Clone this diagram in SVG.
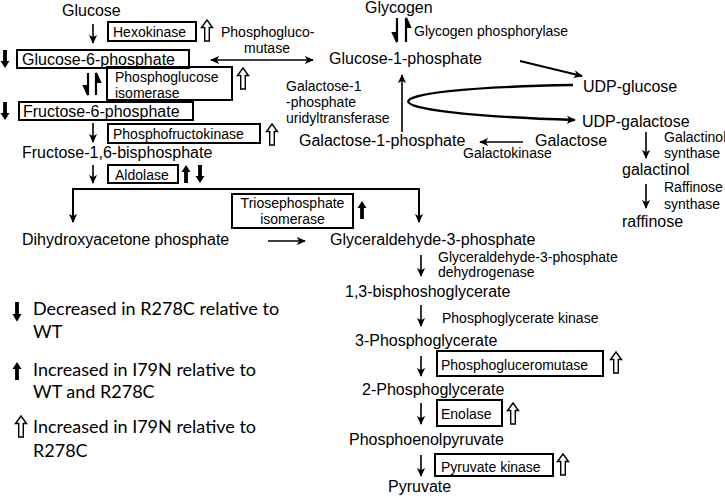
<svg xmlns="http://www.w3.org/2000/svg" width="725" height="498" viewBox="0 0 725 498">
<defs>
<style>
text{font-family:"Liberation Sans",Arial,sans-serif;fill:#000}
.L{font-size:16px}
.S{font-size:14px}
.G{font-family:Lato,"Liberation Sans",sans-serif;font-size:18px}
.box{fill:none;stroke:#000;stroke-width:2}
.ln{fill:none;stroke:#000;stroke-width:1.6}
.thk{fill:none;stroke:#000;stroke-width:2.4}
</style>
<marker id="ah" viewBox="0 0 10 10" refX="9" refY="5" markerWidth="9" markerHeight="9" markerUnits="userSpaceOnUse" orient="auto-start-reverse"><path d="M0,0.5 L10,5 L0,9.5 L2.5,5 z"/></marker>
<path id="su" d="M0,0 L4.5,7 L1.9,7 L1.9,18 L-1.9,18 L-1.9,7 L-4.5,7 Z" fill="#000"/>
<path id="sd" d="M0,18 L4.5,11 L1.9,11 L1.9,0 L-1.9,0 L-1.9,11 L-4.5,11 Z" fill="#000"/>
<path id="hu" d="M0,0 L5.5,7.5 L2.3,7.5 L2.3,21 L-2.3,21 L-2.3,7.5 L-5.5,7.5 Z" fill="#fff" stroke="#000" stroke-width="1.4"/>
</defs>

<g id="connectors">
<line class="ln" x1="93" y1="24" x2="93" y2="43" marker-end="url(#ah)"/>
<line class="ln" x1="211" y1="60" x2="313" y2="60" marker-start="url(#ah)" marker-end="url(#ah)"/>
<path d="M88,73 V95 M88,95 L84,86 L88,86 Z" stroke="#000" stroke-width="2.2" fill="#000"/>
<path d="M96,95 V73 M96,73 L100,82 L96,82 Z" stroke="#000" stroke-width="2.2" fill="#000"/>
<line class="ln" x1="93" y1="123" x2="93" y2="142" marker-end="url(#ah)"/>
<line class="ln" x1="93" y1="165" x2="93" y2="183" marker-end="url(#ah)"/>
<path d="M73,222 V189 H419 V222" fill="none" stroke="#000" stroke-width="2" marker-start="url(#ah)" marker-end="url(#ah)"/>
<line class="ln" x1="268" y1="241" x2="305" y2="241" marker-end="url(#ah)"/>
<line class="ln" x1="421" y1="255" x2="421" y2="276" marker-end="url(#ah)"/>
<line class="ln" x1="421" y1="305" x2="421" y2="326" marker-end="url(#ah)"/>
<line class="ln" x1="421" y1="356" x2="421" y2="376" marker-end="url(#ah)"/>
<line class="ln" x1="421" y1="403" x2="421" y2="424" marker-end="url(#ah)"/>
<line class="ln" x1="421" y1="455" x2="421" y2="476" marker-end="url(#ah)"/>
<path d="M397,18 V42 M397,42 L393,33 L397,33 Z" stroke="#000" stroke-width="2.2" fill="#000"/>
<path d="M406,42 V18 M406,18 L410,27 L406,27 Z" stroke="#000" stroke-width="2.2" fill="#000"/>
<line x1="520" y1="61" x2="582" y2="76" stroke="#000" stroke-width="2" marker-end="url(#ah)"/>
<path class="thk" d="M573,85 C353,89 353,113 575,120" marker-end="url(#ah)"/>
<line class="ln" x1="402" y1="132" x2="402" y2="75" marker-end="url(#ah)"/>
<line class="ln" x1="523" y1="142" x2="480" y2="142" marker-end="url(#ah)"/>
<line class="ln" x1="646" y1="132" x2="646" y2="158" marker-end="url(#ah)"/>
<line class="ln" x1="646" y1="184" x2="646" y2="208" marker-end="url(#ah)"/>
</g>

<g id="glucose"><text class="L" x="62" y="16">Glucose</text></g>
<g id="hexokinase"><rect class="box" x="108" y="22" width="88" height="19"/><text class="S" x="113" y="37">Hexokinase</text><use href="#hu" x="207" y="20"/></g>
<g id="g6p"><rect class="box" x="17" y="50" width="172" height="18"/><text class="L" x="22" y="65">Glucose-6-phosphate</text><use href="#sd" x="5" y="50"/></g>
<g id="pgm1"><text class="S" x="221" y="37">Phosphogluco-</text><text class="S" x="267" y="53" text-anchor="middle">mutase</text></g>
<g id="pgi"><rect class="box" x="107" y="67" width="125" height="33"/><text class="S" x="115" y="82">Phosphoglucose</text><text class="S" x="115" y="98">isomerase</text><use href="#hu" x="243" y="68"/></g>
<g id="f6p"><rect class="box" x="19" y="102" width="174" height="18"/><text class="L" x="23" y="117">Fructose-6-phosphate</text><use href="#sd" x="5" y="102"/></g>
<g id="pfk"><rect class="box" x="108" y="124" width="152" height="19"/><text class="S" x="113" y="139">Phosphofructokinase</text><use href="#hu" x="272" y="124"/></g>
<g id="f16bp"><text class="L" x="22" y="158">Fructose-1,6-bisphosphate</text></g>
<g id="aldolase"><rect class="box" x="108" y="165" width="70" height="18"/><text class="S" x="115" y="180">Aldolase</text><use href="#su" x="186" y="165"/><use href="#sd" x="200" y="165"/></g>
<g id="tpi"><rect class="box" x="232" y="194" width="121" height="34"/><text class="S" x="292.5" y="208" text-anchor="middle">Triosephosphate</text><text class="S" x="292.5" y="224" text-anchor="middle">isomerase</text><use href="#su" x="362" y="201"/></g>
<g id="dhap"><text class="L" x="22" y="245">Dihydroxyacetone phosphate</text></g>
<g id="gap"><text class="L" x="330" y="245">Glyceraldehyde-3-phosphate</text></g>
<g id="gapdh"><text class="S" x="438" y="262">Glyceraldehyde-3-phosphate</text><text class="S" x="438" y="277">dehydrogenase</text></g>
<g id="bpg"><text class="L" x="345" y="297">1,3-bisphoshoglycerate</text></g>
<g id="pgk"><text class="S" x="442" y="323">Phosphoglycerate kinase</text></g>
<g id="pg3"><text class="L" x="355" y="346">3-Phosphoglycerate</text></g>
<g id="pgmut"><rect class="box" x="437" y="351" width="166" height="25"/><text class="S" x="441" y="370">Phosphogluceromutase</text><use href="#hu" x="616" y="352"/></g>
<g id="pg2"><text class="L" x="362" y="395">2-Phosphoglycerate</text></g>
<g id="enolase"><rect class="box" x="437" y="400" width="65" height="26"/><text class="S" x="441" y="419">Enolase</text><use href="#hu" x="513" y="403"/></g>
<g id="pep"><text class="L" x="349" y="445">Phosphoenolpyruvate</text></g>
<g id="pk"><rect class="box" x="435" y="454" width="118" height="22"/><text class="S" x="441" y="472">Pyruvate kinase</text><use href="#hu" x="563" y="454"/></g>
<g id="pyruvate"><text class="L" x="388" y="492">Pyruvate</text></g>

<g id="glycogen"><text class="L" x="365" y="13">Glycogen</text><text class="S" x="414" y="36">Glycogen phosphorylase</text></g>
<g id="g1p"><text class="L" x="329" y="64">Glucose-1-phosphate</text></g>
<g id="galt"><text class="S" x="286" y="91">Galactose-1</text><text class="S" x="286" y="107">-phosphate</text><text class="S" x="286" y="123">uridyltransferase</text></g>
<g id="gal1p"><text class="L" x="299" y="146">Galactose-1-phosphate</text></g>
<g id="galactose"><text class="L" x="535" y="146">Galactose</text><text class="S" x="463" y="158">Galactokinase</text></g>
<g id="udpglc"><text class="L" x="583" y="92">UDP-glucose</text></g>
<g id="udpgal"><text class="L" x="582" y="127">UDP-galactose</text></g>
<g id="galactinol"><text class="S" x="664" y="142">Galactinol</text><text class="S" x="664" y="158">synthase</text><text class="L" x="622" y="175">galactinol</text></g>
<g id="raffinose"><text class="S" x="664" y="192">Raffinose</text><text class="S" x="664" y="209">synthase</text><text class="L" x="622" y="227">raffinose</text></g>

<g id="legend">
<use href="#sd" x="17" y="302" transform="translate(0,-30.2) scale(1,1.1)"/>
<text class="G" x="33" y="315">Decreased in R278C relative to</text>
<text class="G" x="33" y="338">WT</text>
<use href="#su" x="17" y="362"/>
<text class="G" x="33" y="376">Increased in I79N relative to</text>
<text class="G" x="33" y="398">WT and R278C</text>
<use href="#hu" x="21" y="416"/>
<text class="G" x="33" y="433">Increased in I79N relative to</text>
<text class="G" x="33" y="457">R278C</text>
</g>
</svg>
